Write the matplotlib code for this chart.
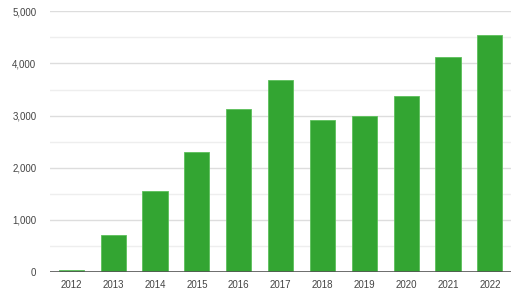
import numpy as np
import matplotlib.pyplot as plt
from matplotlib.ticker import MultipleLocator, FuncFormatter

plt.rcParams['font.family'] = ['Liberation Sans', 'DejaVu Sans']

years = ['2012', '2013', '2014', '2015', '2016', '2017',
         '2018', '2019', '2020', '2021', '2022']
values = [40, 715, 1560, 2297, 3125, 3685, 2912, 2988, 3372, 4133, 4549]

fig = plt.figure(figsize=(5.12, 2.94), dpi=100)
ax = fig.add_axes([50.3 / 512, 22 / 294, 460.5 / 512, 260.7 / 294])

x = np.arange(len(years))
ax.bar(x, values, width=0.6, color='#33a532', edgecolor='#5cc05a', linewidth=0.6, zorder=3)

ax.set_xlim(-0.5, len(years) - 0.5)
ax.set_ylim(0, 5000)
ax.yaxis.set_major_locator(MultipleLocator(1000))
ax.yaxis.set_minor_locator(MultipleLocator(500))
ax.yaxis.set_major_formatter(FuncFormatter(lambda v, p: f'{int(v):,}'))
ax.grid(axis='y', which='major', color='#dddddd', linewidth=1, zorder=0)
ax.grid(axis='y', which='minor', color='#eeeeee', linewidth=1, zorder=0)
ax.axhline(0, color='#555555', linewidth=1.2, zorder=4)

ax.set_xticks(x)
ax.set_xticklabels(years)
ax.tick_params(axis='both', which='both', length=0, labelsize=7, colors='#444444')
ax.tick_params(axis='y', pad=10)
ax.tick_params(axis='x', pad=6)
for s in ax.spines.values():
    s.set_visible(False)

fig.savefig('out.png', dpi=100)
